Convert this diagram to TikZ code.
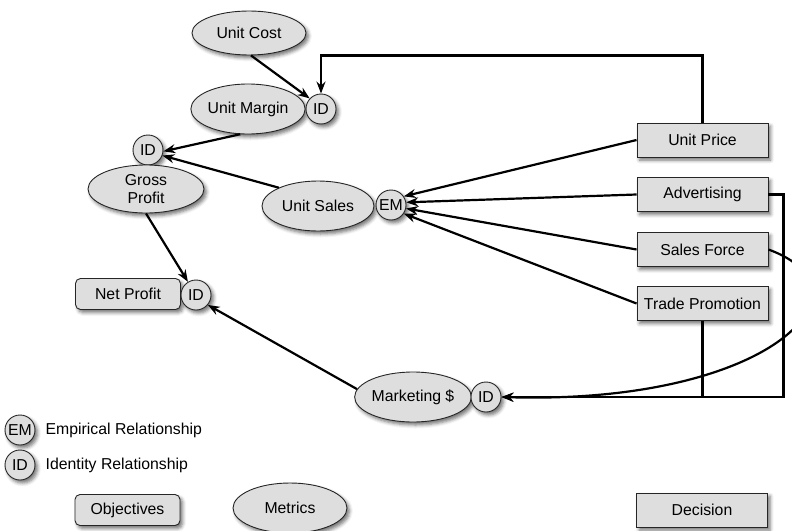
\documentclass[tikz,border=0pt]{standalone}
\usepackage{fontspec}
\setmainfont{Liberation Sans}
\usetikzlibrary{shapes.geometric,arrows.meta,shadows.blur}

\begin{document}
\begin{tikzpicture}[x=1pt,y=-1pt,
  font=\fontsize{15.8}{18}\selectfont,
  box/.style={draw=black!85, line width=0.9pt, fill=black!13, inner sep=0pt,
    blur shadow={shadow xshift=2.5pt, shadow yshift=-3pt, shadow blur radius=3.5pt, shadow opacity=55}},
  oval/.style={box, ellipse, minimum width=114pt, minimum height=48pt},
  rel/.style={box, circle, minimum size=30pt},
  goal/.style={box, rectangle, rounded corners=5pt, minimum width=105pt, minimum height=31pt},
  decision/.style={box, rectangle, minimum width=131pt, minimum height=34pt},
  caption/.style={inner sep=0pt, anchor=west},
  link/.style={line width=2.2pt, -{Stealth[length=12pt,width=9pt,inset=4pt]}},
  plain/.style={line width=2.2pt}]
\useasboundingbox (0,0) rectangle (792,530);

% metrics
\node[oval, minimum height=44pt] (ucost) at (249,33) {Unit Cost};
\node[oval, minimum height=50pt] (umargin) at (248,109) {Unit Margin};
\node[rel] (idm) at (321,109) {ID};
\node[rel] (idg) at (148,150) {ID};
\node[oval, align=center, minimum width=116pt] (gp) at (146,189) {Gross\\Profit};
\node[oval, minimum width=112pt, minimum height=50pt] (usales) at (318,206) {Unit Sales};
\node[rel] (em) at (391,205) {EM};
\node[oval, minimum width=112pt, minimum height=50pt] (mkt) at (413,397) {Marketing \$};
\node[rel] (idk) at (486,397) {ID};

% objective
\node[goal] (np) at (128,294) {Net Profit};
\node[rel] (idn) at (196,295) {ID};

% decisions
\node[decision] (price) at (702.5,140) {Unit Price};
\node[decision] (adv) at (702.5,194.5) {Advertising};
\node[decision] (sforce) at (702.5,249.5) {Sales Force};
\node[decision] (trade) at (702.5,303.5) {Trade Promotion};

% relationships
\draw[link] (ucost.-85) -- (idm.137);
\draw[link] (price.north) -- ++(0,-67) -| (idm.north);
\draw[link] (umargin.-107) -- (idg.-5);
\draw[link] (usales.155) -- (idg.-21);
\draw[link] (gp.south) -- (idn);
\draw[link] (mkt.172) -- (idn.-40);
\draw[link] (price.west) -- (em.34);
\draw[link] (adv.west) -- (em.10);
\draw[link] (sforce.west) -- (em.-13);
\draw[link] (trade.west) -- (em.-34);
\draw[link] (adv.east) -- ++(15,0) |- (idk.east);
\draw[plain] (trade.south) -- (trade.south |- idk);
\draw[link] (sforce.east) .. controls (880,290) and (770,405) .. (idk.east);

% legend
\node[rel] (lem) at (20,430) {EM};
\node[caption] (lemtext) at (45.5,430) {Empirical Relationship};
\node[rel] (lid) at (20,465) {ID};
\node[caption] (lidtext) at (45.5,465) {Identity Relationship};
\node[goal] (kobj) at (127.5,510) {Objectives};
\node[oval, minimum height=50pt] (kmet) at (290,508) {Metrics};
\node[decision] (kdec) at (702,510) {Decision};
\end{tikzpicture}
\end{document}
